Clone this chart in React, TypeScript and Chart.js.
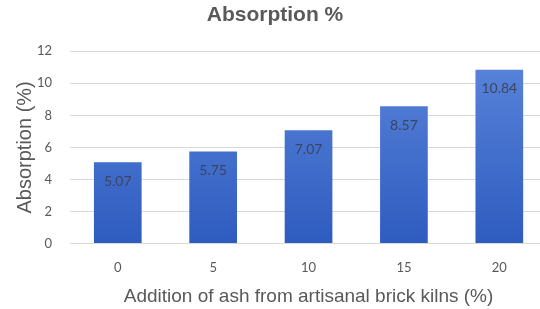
import React, { useEffect, useRef } from "react";
import { Chart, registerables } from "chart.js";

Chart.register(...registerables);

const categories = ["0", "5", "10", "15", "20"];
const absorption = [5.07, 5.75, 7.07, 8.57, 10.84];
const yTicks = [0, 2, 4, 6, 8, 10, 12];

const labelPlugin = {
  id: "barLabels",
  afterDatasetsDraw(chart: any) {
    const ctx = chart.ctx;
    const meta = chart.getDatasetMeta(0);
    ctx.save();
    ctx.font = "14px Lato";
    ctx.fillStyle = "#3b4660";
    ctx.textAlign = "center";
    ctx.textBaseline = "middle";
    meta.data.forEach((bar: any, i: number) => {
      ctx.fillText(absorption[i].toFixed(2), bar.x, bar.y + 19);
    });
    ctx.restore();
  },
};

export default function App() {
  const ref = useRef<HTMLCanvasElement>(null);
  useEffect(() => {
    if (!ref.current) return;
    const chart = new Chart(ref.current, {
      type: "bar",
      data: {
        labels: categories,
        datasets: [
          {
            data: absorption,
            backgroundColor: (c: any) => {
              const area = c.chart.chartArea;
              if (!area) return "#3f6fd0";
              const g = c.chart.ctx.createLinearGradient(0, area.top, 0, area.bottom);
              g.addColorStop(0, "#5b86dc");
              g.addColorStop(1, "#2e5bbf");
              return g;
            },
            borderWidth: 0,
            categoryPercentage: 1,
            barPercentage: 0.5,
          },
        ],
      },
      options: {
        animation: false,
        responsive: false,
        maintainAspectRatio: false,
        layout: { padding: { left: 3, right: 1, top: 0, bottom: 0 } },
        plugins: {
          legend: { display: false },
          tooltip: { enabled: false },
          title: {
            display: true,
            text: "Absorption %",
            color: "#595959",
            font: { family: "Liberation Sans", size: 21, weight: "bold" },
            padding: { top: 3, bottom: 23 },
          },
        },
        scales: {
          x: {
            grid: { display: false, drawTicks: false },
            border: { display: true, color: "#d9d9d9" },
            ticks: {
              color: "#595959",
              font: { family: "Lato", size: 13 },
              padding: 16,
            },
            title: {
              display: true,
              text: "Addition of ash from artisanal brick kilns (%)",
              color: "#595959",
              font: { family: "Liberation Sans", size: 19 },
              padding: { top: -6, bottom: 1 },
            },
          },
          y: {
            min: 0,
            max: 12,
            afterBuildTicks: (axis: any) => {
              axis.ticks = yTicks.map((v) => ({ value: v }));
            },
            grid: { color: "#d9d9d9", drawTicks: false },
            border: { display: false },
            ticks: {
              color: "#595959",
              font: { family: "Lato", size: 13 },
              padding: 18,
            },
            title: {
              display: true,
              text: "Absorption (%)",
              color: "#595959",
              font: { family: "Liberation Sans", size: 20 },
              padding: { top: 10, bottom: -18 },
            },
          },
        },
      },
      plugins: [labelPlugin],
    });
    return () => chart.destroy();
  }, []);
  return (
    <div style={{ position: "fixed", left: 0, top: 0, width: 548, height: 309, background: "#fff" }}>
      <canvas ref={ref} width={548} height={309} style={{ display: "block" }} />
    </div>
  );
}
